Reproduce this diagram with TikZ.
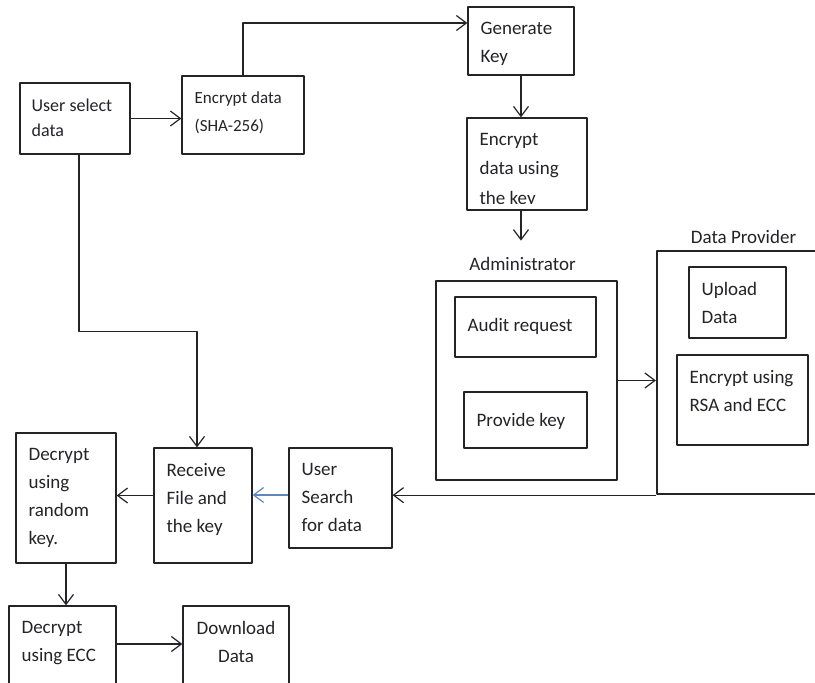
\documentclass[tikz,border=0pt]{standalone}
\usepackage{fontspec}
\setmainfont{Carlito}
\usepackage{tikz}
\usetikzlibrary{arrows.meta,fit}
\usepackage{xcolor}
\definecolor{inkdark}{RGB}{35,35,40}
\definecolor{lineblue}{RGB}{95,135,185}

\begin{document}
\begin{tikzpicture}[x=1pt,y=-1pt,line join=round,
  blk/.style={draw=inkdark,line width=1.2pt,inner sep=0pt},
  grp/.style={blk,line width=2.3pt},
  lbl/.style={text=inkdark,font=\fontsize{19}{28}\selectfont,align=left,
    inner sep=0pt,anchor=north west,execute at begin node=\strut},
  arr/.style={draw=inkdark,line width=1.2pt,-{Straight Barb[length=10pt,width=15pt]}}]
 \useasboundingbox (0,0) rectangle (815,683);
 \clip (0,0) rectangle (815,683);
 % outer groups
 \node[grp,fit={(436,281) (617,480)}] (adm) {};
 \node[grp,fit={(657,251) (830,494)}] (prov) {};
 % boxes
 \foreach \n/\xa/\ya/\xb/\yb in {usel/20/83/130/154,enc/182/76/304/154,
   genk/468/7/574/75,enck/467/118/587/210,audit/455/297/596/357,
   provk/464/392/587/448,upl/689/267/786/338,rsa/677/355/808/445,
   usearch/289/448/392/548,recv/154/448/252/563,decr/16/433/116/563,
   decc/9/606/116/700,down/183/606/289/700}
  {\node[blk,fit={(\xa,\ya) (\xb,\yb)}] (\n) {};}
 % box texts
 \node[lbl,font=\fontsize{18}{25}\selectfont] (usel-t) at ([shift={(12,16.5)}]usel.north west) {User select\\data};
 \node[lbl,font=\fontsize{17}{28}\selectfont] (enc-t) at ([shift={(13,16)}]enc.north west) {Encrypt data\\(SHA-256)};
 \foreach \n/\t in {genk/{Generate\\Key},
   audit/{Audit request},provk/{Provide key},upl/{Upload\\Data},
   rsa/{Encrypt using\\RSA and ECC},usearch/{User\\Search\\for data},
   recv/{Receive\\File and\\the key},decr/{Decrypt\\using\\random\\key.},
   decc/{Decrypt\\using ECC}}
  {\node[lbl] (\n-t) at ([shift={(13,15.5)}]\n.north west) {\t};}
 % last line of this one is cut off by its text frame
 \begin{scope}
  \clip (enck.north west) rectangle ([yshift=7pt]enck.south east);
  \node[lbl,font=\fontsize{19}{29.5}\selectfont] (enck-t) at ([shift={(13,15.5)}]enck.north west) {Encrypt\\data using\\the key};
 \end{scope}
 \node[lbl,align=center,anchor=north] (down-t) at ([yshift=-15.5pt]down.north) {Download\\Data};
 \node[lbl,anchor=base] (adm-t) at ([shift={(-4,-9)}]adm.north) {Administrator};
 \node[lbl,anchor=base] (prov-t) at ([shift={(0,-6)}]prov.north) {Data Provider};
 % connectors
 \coordinate (keyout) at ([yshift=-30pt]enck.south -| genk.south);
 \draw[arr] (usel.east) -- (usel.east -| enc.west);
 \draw[arr] (enc.north) |- ([yshift=18pt]genk.west);
 \draw[arr] (genk.south) -- (genk.south |- enck.north);
 \draw[arr] (enck.south -| genk.south) -- (keyout);
 \draw[arr] (adm.east) -- (adm.east -| prov.west);
 \draw[arr] (prov.south west) -- (prov.south west -| usearch.east);
 \draw[arr,draw=lineblue] ([yshift=3pt]usearch.west) -- ([yshift=3pt]usearch.west -| recv.east);
 \draw[arr] ([yshift=10pt]recv.west) -- ([yshift=10pt]recv.west -| decr.east);
 \draw[arr] (decr.south) -- (decr.south |- decc.north);
 \draw[arr] ([yshift=9pt]decc.east) -- ([yshift=9pt]decc.east -| down.west);
 \draw[arr] ([xshift=4pt]usel.south) -- ++(0,177) -| ([xshift=-6pt]recv.north);
\end{tikzpicture}
\end{document}
